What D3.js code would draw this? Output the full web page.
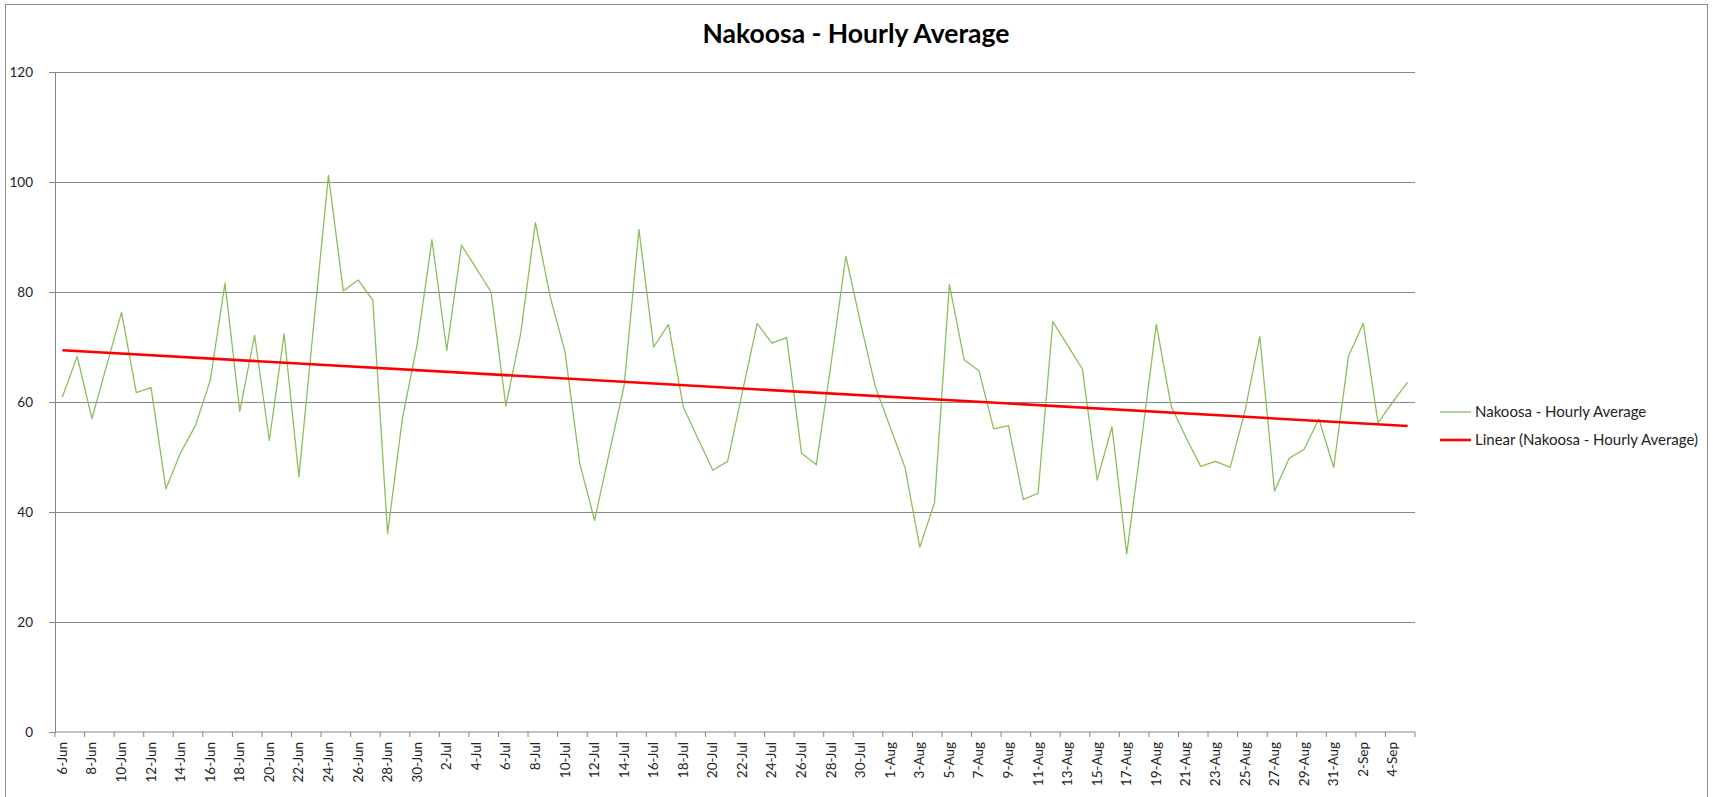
<!DOCTYPE html>
<html>
<head>
<meta charset="utf-8">
<script src="https://cdn.jsdelivr.net/npm/d3@7"></script>
<style>
  body { margin: 0; background: #fff; }
  svg { display: block; font-family: Lato, "Open Sans", sans-serif; }
</style>
</head>
<body>
<svg width="1713" height="797"></svg>
<script>
var width = 1713
var height = 797
var margin = ({top: 72, right: 298, bottom: 65, left: 55})

// one category per day, 6-Jun .. 5-Sep
var days = [
  "6-Jun","7-Jun","8-Jun","9-Jun","10-Jun","11-Jun","12-Jun","13-Jun","14-Jun","15-Jun",
  "16-Jun","17-Jun","18-Jun","19-Jun","20-Jun","21-Jun","22-Jun","23-Jun","24-Jun","25-Jun",
  "26-Jun","27-Jun","28-Jun","29-Jun","30-Jun","1-Jul","2-Jul","3-Jul","4-Jul","5-Jul",
  "6-Jul","7-Jul","8-Jul","9-Jul","10-Jul","11-Jul","12-Jul","13-Jul","14-Jul","15-Jul",
  "16-Jul","17-Jul","18-Jul","19-Jul","20-Jul","21-Jul","22-Jul","23-Jul","24-Jul","25-Jul",
  "26-Jul","27-Jul","28-Jul","29-Jul","30-Jul","31-Jul","1-Aug","2-Aug","3-Aug","4-Aug",
  "5-Aug","6-Aug","7-Aug","8-Aug","9-Aug","10-Aug","11-Aug","12-Aug","13-Aug","14-Aug",
  "15-Aug","16-Aug","17-Aug","18-Aug","19-Aug","20-Aug","21-Aug","22-Aug","23-Aug","24-Aug",
  "25-Aug","26-Aug","27-Aug","28-Aug","29-Aug","30-Aug","31-Aug","1-Sep","2-Sep","3-Sep",
  "4-Sep","5-Sep"
]

var hourlyAvg = [
  60.9, 68.3, 57.0, 66.7, 76.3, 61.7, 62.6, 44.2, 50.8, 55.7,
  63.9, 81.6, 58.3, 72.1, 53.0, 72.4, 46.4, 74.0, 101.2, 80.2,
  82.2, 78.5, 36.1, 57.0, 70.5, 89.5, 69.4, 88.5, 84.3, 80.0,
  59.3, 72.4, 92.6, 79.1, 69.1, 48.8, 38.5, 50.8, 63.0, 91.4,
  70.0, 74.1, 59.1, 53.3, 47.6, 49.2, 61.8, 74.3, 70.7, 71.7,
  50.7, 48.6, 67.0, 86.5, 74.3, 62.7, 55.4, 48.1, 33.6, 41.7,
  81.4, 67.7, 65.7, 55.1, 55.7, 42.3, 43.4, 74.6, 70.3, 66.0,
  45.8, 55.5, 32.4, 53.0, 74.1, 59.3, 53.6, 48.3, 49.2, 48.1,
  58.4, 71.9, 43.8, 49.8, 51.4, 56.9, 48.1, 68.3, 74.3, 56.2,
  60.0, 63.6
]

var yTicks = [0, 20, 40, 60, 80, 100, 120]
var seriesName = "Nakoosa - Hourly Average"
var trendName = "Linear (Nakoosa - Hourly Average)"

var x = d3.scaleBand()
    .domain(days)
    .range([margin.left, width - margin.right])
    .padding(0)
var y = d3.scaleLinear()
    .domain([0, 120])
    .range([height - margin.bottom, margin.top])

var cx = d => x(d) + x.bandwidth() / 2

const svg = d3.select("svg")

// outer chart border
svg.append("rect")
    .attr("x", 5.5).attr("y", 4.5)
    .attr("width", 1702).attr("height", 800)
    .attr("fill", "none")
    .attr("stroke", "#8c8c8c")

svg.append("text")
    .attr("x", 856)
    .attr("y", 43)
    .attr("text-anchor", "middle")
    .attr("font-weight", "bold")
    .attr("font-size", 26.5)
    .attr("fill", "#000")
    .text("Nakoosa - Hourly Average")

// y axis with gridlines
var yAxis = g => g
    .attr("transform", `translate(${margin.left},0)`)
    .call(d3.axisLeft(y).tickValues(yTicks).tickSize(6).tickPadding(16))
    .call(g => g.select(".domain").attr("stroke", "#868686"))
    .call(g => g.selectAll(".tick line").attr("stroke", "#868686"))
    .call(g => g.selectAll(".tick text")
        .attr("font-size", 13.5).attr("fill", "#222").attr("font-family", "Lato, sans-serif"))
    .call(g => g.selectAll(".tick").filter(d => d > 0).append("line")
        .attr("x2", width - margin.right - margin.left)
        .attr("stroke", "#8a8a8a"))

svg.append("g").call(yAxis)

// x axis: ticks between every second category, labels on each second category
var xg = svg.append("g")
    .attr("transform", `translate(0,${height - margin.bottom})`)

xg.append("line")
    .attr("x1", margin.left).attr("x2", width - margin.right)
    .attr("stroke", "#868686")

var tickPos = days.filter((d, i) => i % 2 == 0).map(d => x(d)).concat([width - margin.right])
xg.selectAll("line.tk")
    .data(tickPos)
    .join("line")
    .attr("class", "tk")
    .attr("x1", d => d).attr("x2", d => d)
    .attr("y1", 0).attr("y2", 5)
    .attr("stroke", "#868686")

xg.selectAll("text")
    .data(days.filter((d, i) => i % 2 == 0))
    .join("text")
    .attr("transform", d => `translate(${cx(d) + 4.5},10) rotate(-90)`)
    .attr("text-anchor", "end")
    .attr("font-size", 13.5)
    .attr("fill", "#222")
    .text(d => d)

// series line
var line = d3.line()
    .x((d, i) => cx(days[i]))
    .y(d => y(d))

svg.append("path")
    .datum(hourlyAvg)
    .attr("fill", "none")
    .attr("stroke", "#8cbf5c")
    .attr("stroke-width", 1.3)
    .attr("stroke-linejoin", "round")
    .attr("d", line)

// linear trend (least squares over category index)
var n = hourlyAvg.length
var mx = d3.mean(hourlyAvg, (d, i) => i + 1)
var my = d3.mean(hourlyAvg)
var sxy = d3.sum(hourlyAvg, (d, i) => (i + 1 - mx) * (d - my))
var sxx = d3.sum(hourlyAvg, (d, i) => (i + 1 - mx) * (i + 1 - mx))
var slope = sxy / sxx
var icpt = my - slope * mx

svg.append("line")
    .attr("x1", cx(days[0])).attr("y1", y(icpt + slope * 1))
    .attr("x2", cx(days[n - 1])).attr("y2", y(icpt + slope * n))
    .attr("stroke", "#ff0000")
    .attr("stroke-width", 2.6)

// legend
var legend = svg.append("g")
var items = [
  {name: seriesName, color: "#8cbf5c", w: 1.3, yy: 412},
  {name: trendName, color: "#ff0000", w: 2.6, yy: 440}
]
items.forEach(it => {
  legend.append("line")
      .attr("x1", 1440).attr("x2", 1471)
      .attr("y1", it.yy).attr("y2", it.yy)
      .attr("stroke", it.color).attr("stroke-width", it.w)
  legend.append("text")
      .attr("x", 1475).attr("y", it.yy + 5)
      .attr("font-size", 15)
      .attr("fill", "#222")
      .text(it.name)
})
</script>
</body>
</html>
